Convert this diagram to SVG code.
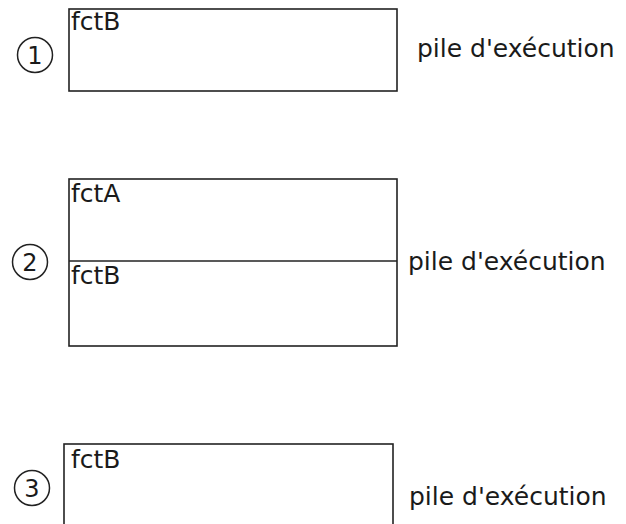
<svg xmlns="http://www.w3.org/2000/svg" width="626" height="524" viewBox="0 0 626 524">
<style>
.box{fill:#fff;stroke:#222;stroke-width:1.6}
.num{fill:none;stroke:#222;stroke-width:1.5}
.t{font-family:"DejaVu Sans",sans-serif;font-size:25px;fill:#1a1a1a}
.d{font-family:"DejaVu Sans",sans-serif;font-size:24px;fill:#1a1a1a;text-anchor:middle}
</style>
<rect width="626" height="524" fill="#fff"/>
<g id="state1">
<circle class="num" cx="35" cy="55" r="17.5"/>
<text class="d" x="35" y="64">1</text>
<rect class="box" x="69" y="9" width="328" height="82"/>
<text class="t" x="71" y="30">fctB</text>
<text class="t" x="417" y="57">pile d'exécution</text>
</g>
<g id="state2">
<circle class="num" cx="30" cy="262" r="17.5"/>
<text class="d" x="30" y="271">2</text>
<rect class="box" x="69" y="179" width="328" height="167"/>
<line class="box" x1="69" y1="261" x2="397" y2="261"/>
<text class="t" x="71" y="202">fctA</text>
<text class="t" x="71" y="284">fctB</text>
<text class="t" x="408" y="270">pile d'exécution</text>
</g>
<g id="state3">
<circle class="num" cx="32" cy="488" r="17.5"/>
<text class="d" x="32" y="497">3</text>
<rect class="box" x="64" y="444" width="329" height="100"/>
<text class="t" x="71" y="468">fctB</text>
<text class="t" x="409" y="505">pile d'exécution</text>
</g>
</svg>
